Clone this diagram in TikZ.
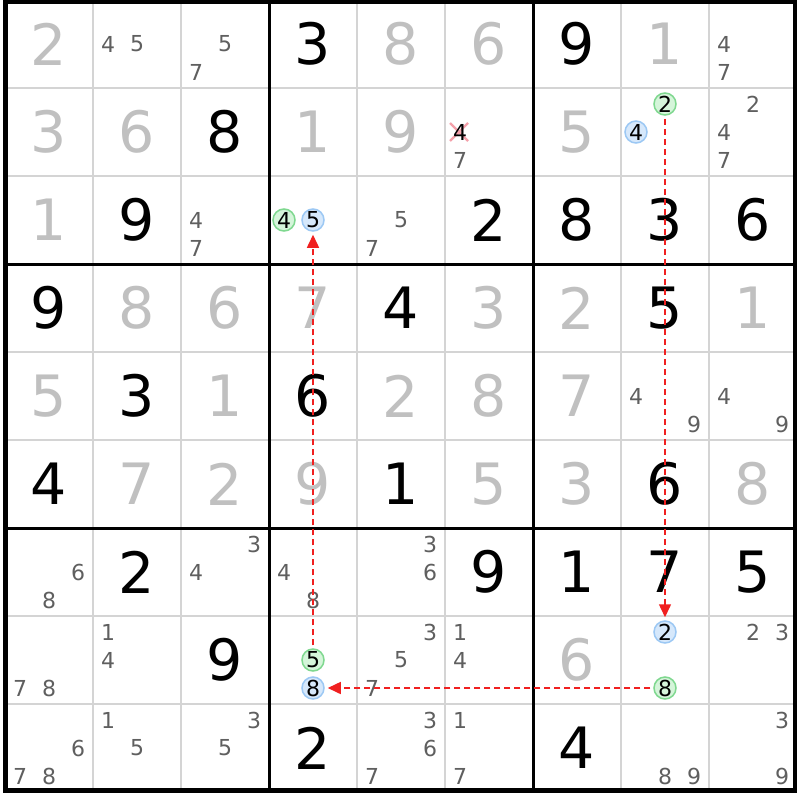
\documentclass[tikz,border=0pt]{standalone}
\usepackage{fontspec}
\setmainfont{DejaVu Sans}
\usetikzlibrary{arrows.meta}
\definecolor{solvedgray}{HTML}{C0C0C0}
\definecolor{candgray}{HTML}{5F5F5F}
\definecolor{thingrid}{HTML}{D4D4D4}
\definecolor{hlgreenline}{HTML}{7FD88F}
\definecolor{hlgreenfill}{HTML}{D5F5DA}
\definecolor{hlblueline}{HTML}{9CC8F4}
\definecolor{hlbluefill}{HTML}{D6E8FB}
\definecolor{chainred}{HTML}{F02020}
\definecolor{crosspink}{HTML}{F4A0AA}
\newcommand\Giv[3]{\node[givenst] (n#1#2) at ({88*#2-39},{88*#1-44}) {#3};}
\newcommand\Sol[3]{\node[solvedst] (n#1#2) at ({88*#2-39},{88*#1-44}) {#3};}
\newcommand\Cand[3]{\foreach \d in {#3}{%
  \pgfmathtruncatemacro\cxx{mod(\d-1,3)-1}%
  \pgfmathtruncatemacro\cyy{(\d-1)/3}%
  \node[candst] (c#1#2\d) at ({88*#2-39+29*\cxx},{88*#1-44+28*(\cyy-1)}) {\d};}}
\newcommand\Hl[5]{%
  \pgfmathtruncatemacro\cxx{mod(#5-1,3)-1}%
  \pgfmathtruncatemacro\cyy{(#5-1)/3}%
  \node[#1] (#2) at ({88*#4-39+29*\cxx},{88*#3-44+28*(\cyy-1)}) {#5};}
\begin{document}
\begin{tikzpicture}[x=1pt,y=-1pt,
 givenst/.style={inner sep=0pt, font=\fontsize{57}{57}\selectfont, text=black},
 solvedst/.style={givenst, text=solvedgray},
 candst/.style={inner sep=0pt, font=\fontsize{22}{22}\selectfont, text=candgray},
 hlgreen/.style={circle, draw=hlgreenline, fill=hlgreenfill, line width=1.5pt, minimum size=22pt, inner sep=0pt, font=\fontsize{22}{22}\selectfont, text=black},
 hlblue/.style={hlgreen, draw=hlblueline, fill=hlbluefill},
 thingridline/.style={draw=thingrid, line width=1.5pt},
 boxline/.style={draw=black, line width=3pt},
 chain/.style={draw=chainred, line width=1.5pt, dash pattern=on 6pt off 4pt, -{Triangle[length=13pt,width=12pt]}, shorten <=3pt, shorten >=3pt}
]
\fill[white] (0,0) rectangle (800,800);
\useasboundingbox (0,0) rectangle (800,800);
% grid
\foreach \i in {1,2,4,5,7,8} {
  \draw[thingridline] ({5+88*\i},0) -- ({5+88*\i},792);
  \draw[thingridline] (5,{88*\i}) -- (797,{88*\i});
}
\foreach \i in {3,6} {
  \draw[boxline] ({5+88*\i},0) -- ({5+88*\i},792);
  \draw[boxline] (5,{88*\i}) -- (797,{88*\i});
}
\draw[line width=4.5pt] (5.5,1.8) rectangle (795,790.7);
% row 1
\Sol{1}{1}{2}\Cand{1}{2}{4,5}\Cand{1}{3}{5,7}\Giv{1}{4}{3}\Sol{1}{5}{8}\Sol{1}{6}{6}\Giv{1}{7}{9}\Sol{1}{8}{1}\Cand{1}{9}{4,7}
% row 2
\Sol{2}{1}{3}\Sol{2}{2}{6}\Giv{2}{3}{8}\Sol{2}{4}{1}\Sol{2}{5}{9}
\draw[crosspink, line width=2.2pt] (450,123) -- (468,141) (450,141) -- (468,123);
\node[candst, text=black] (c264) at (460,132) {4};
\Cand{2}{6}{7}
\Sol{2}{7}{5}
\Hl{hlgreen}{g2r2}{2}{8}{2}\Hl{hlblue}{b4r2}{2}{8}{4}
\Cand{2}{9}{2,4,7}
% row 3
\Sol{3}{1}{1}\Giv{3}{2}{9}\Cand{3}{3}{4,7}
\Hl{hlgreen}{g4r3}{3}{4}{4}\Hl{hlblue}{b5r3}{3}{4}{5}
\Cand{3}{5}{5,7}\Giv{3}{6}{2}\Giv{3}{7}{8}\Giv{3}{8}{3}\Giv{3}{9}{6}
% row 4
\Giv{4}{1}{9}\Sol{4}{2}{8}\Sol{4}{3}{6}\Sol{4}{4}{7}\Giv{4}{5}{4}\Sol{4}{6}{3}\Sol{4}{7}{2}\Giv{4}{8}{5}\Sol{4}{9}{1}
% row 5
\Sol{5}{1}{5}\Giv{5}{2}{3}\Sol{5}{3}{1}\Giv{5}{4}{6}\Sol{5}{5}{2}\Sol{5}{6}{8}\Sol{5}{7}{7}\Cand{5}{8}{4,9}\Cand{5}{9}{4,9}
% row 6
\Giv{6}{1}{4}\Sol{6}{2}{7}\Sol{6}{3}{2}\Sol{6}{4}{9}\Giv{6}{5}{1}\Sol{6}{6}{5}\Sol{6}{7}{3}\Giv{6}{8}{6}\Sol{6}{9}{8}
% row 7
\Cand{7}{1}{6,8}\Giv{7}{2}{2}\Cand{7}{3}{3,4}\Cand{7}{4}{4,8}\Cand{7}{5}{3,6}\Giv{7}{6}{9}\Giv{7}{7}{1}\Giv{7}{8}{7}\Giv{7}{9}{5}
% row 8
\Cand{8}{1}{7,8}\Cand{8}{2}{1,4}\Giv{8}{3}{9}
\Hl{hlgreen}{g5r8}{8}{4}{5}\Hl{hlblue}{b8r8}{8}{4}{8}
\Cand{8}{5}{3,5,7}\Cand{8}{6}{1,4}\Sol{8}{7}{6}
\Hl{hlblue}{b2r8}{8}{8}{2}\Hl{hlgreen}{g8r8}{8}{8}{8}
\Cand{8}{9}{2,3}
% row 9
\Cand{9}{1}{6,7,8}\Cand{9}{2}{1,5}\Cand{9}{3}{3,5}\Giv{9}{4}{2}\Cand{9}{5}{3,6,7}\Cand{9}{6}{1,7}\Giv{9}{7}{4}\Cand{9}{8}{8,9}\Cand{9}{9}{3,9}
% chain
\draw[chain] (g5r8) -- (b5r3);
\draw[chain] (g2r2) -- (b2r8);
\draw[chain] (g8r8) -- (b8r8);
\end{tikzpicture}
\end{document}
